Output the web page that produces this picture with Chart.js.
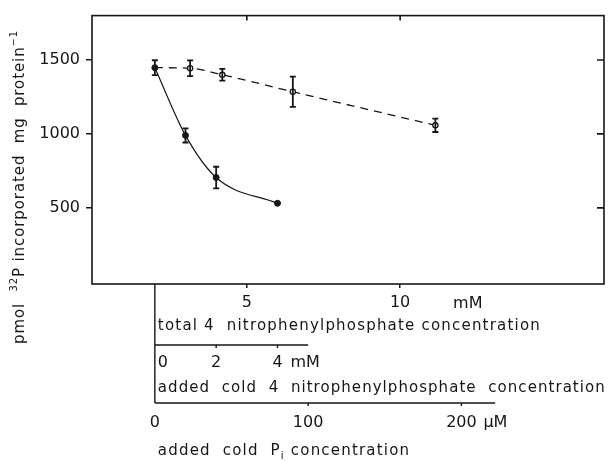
<!DOCTYPE html>
<html>
<head>
<meta charset="utf-8">
<script src="https://cdn.jsdelivr.net/npm/chart.js@4.4.1/dist/chart.umd.min.js"></script>
<style>
  html, body { margin: 0; padding: 0; background: #fff; }
</style>
</head>
<body>
<canvas id="chart" width="610" height="462"></canvas>
<script>
// axis ticks
const totalTicks = [5, 10];          // total 4-nitrophenylphosphate, mM
const addedTicks = [0, 2, 4];        // added cold 4-nitrophenylphosphate, mM
const piTicks = [0, 100, 200];       // added cold Pi, uM
const yTicks = [500, 1000, 1500];

const baseNpp = 2;      // mM labelled substrate present before any addition
const piPerMm = 20;     // uM Pi per mM on the nitrophenylphosphate axis
const addedAxisEnd = 5; // mM
const piAxisEnd = 222;  // uM

// filled circles, solid line: added cold Pi (uM)
const piConc = [0, 20, 40, 80];
const piIncorp = [1448, 990, 705, 531];
const piErr = [50, 48, 73, 0];

// open circles, dashed line: total 4-nitrophenylphosphate (mM)
const nppConc = [3.15, 4.2, 6.5, 11.15];
const nppIncorp = [1444, 1400, 1285, 1058];
const nppErr = [53, 40, 102, 45];

const ink = '#161616';
const face = '"DejaVu Sans"';
const xMin = -0.05, xMax = 16.65;

const errors = [piErr, [0].concat(nppErr)];

function drawParts(ctx, parts, x, y, spacing) {
    let cx = x;
    parts.forEach(p => {
        const small = p.sub || p.sup;
        ctx.font = (small ? 10 : 15) + 'px ' + face;
        ctx.letterSpacing = spacing + 'px';
        const dy = p.sub ? 4 : (p.sup ? -7 : 0);
        ctx.fillText(p.t, cx, y + dy);
        cx += ctx.measureText(p.t).width;
    });
    ctx.letterSpacing = '0px';
}

const figurePlugin = {
    id: 'figure',
    afterDatasetsDraw(chart) {
        const ctx = chart.ctx;
        const ys = chart.scales.y;
        ctx.save();
        ctx.strokeStyle = ink;
        ctx.lineWidth = 1.8;
        chart.data.datasets.forEach((ds, di) => {
            const meta = chart.getDatasetMeta(di);
            meta.data.forEach((pt, i) => {
                const e = errors[di][i];
                if (!e) return;
                const v = ds.data[i].y;
                const top = ys.getPixelForValue(v + e);
                const bot = ys.getPixelForValue(v - e);
                ctx.beginPath();
                ctx.moveTo(pt.x, top); ctx.lineTo(pt.x, bot);
                ctx.moveTo(pt.x - 3, top); ctx.lineTo(pt.x + 3, top);
                ctx.moveTo(pt.x - 3, bot); ctx.lineTo(pt.x + 3, bot);
                ctx.stroke();
            });
        });
        ctx.restore();
    },
    afterDraw(chart) {
        const ctx = chart.ctx;
        const a = chart.chartArea;
        const xs = chart.scales.x, xa = chart.scales.xAdd, xp = chart.scales.xPi, ys = chart.scales.y;
        ctx.save();
        ctx.strokeStyle = ink;
        ctx.fillStyle = ink;
        ctx.lineWidth = 1.6;
        ctx.strokeRect(a.left, a.top, a.right - a.left, a.bottom - a.top);

        ctx.beginPath();
        yTicks.forEach(v => {
            const y = ys.getPixelForValue(v);
            ctx.moveTo(a.right - 7, y); ctx.lineTo(a.right, y);
        });
        totalTicks.forEach(v => {
            const x = xs.getPixelForValue(v);
            ctx.moveTo(x, a.top); ctx.lineTo(x, a.top + 5);
        });
        ctx.stroke();

        // lower axes
        const x0 = xp.getPixelForValue(0);
        const addY = 345, piY = 403;
        ctx.lineWidth = 1.4;
        ctx.beginPath();
        ctx.moveTo(x0, a.bottom); ctx.lineTo(x0, piY);
        ctx.moveTo(x0, addY); ctx.lineTo(xa.getPixelForValue(addedAxisEnd), addY);
        addedTicks.slice(1).forEach(v => {
            const x = xa.getPixelForValue(v);
            ctx.moveTo(x, addY); ctx.lineTo(x, addY + 3);
        });
        ctx.moveTo(x0, piY); ctx.lineTo(xp.getPixelForValue(piAxisEnd), piY);
        piTicks.slice(1).forEach(v => {
            const x = xp.getPixelForValue(v);
            ctx.moveTo(x, piY); ctx.lineTo(x, piY + 3);
        });
        ctx.stroke();

        ctx.textBaseline = 'alphabetic';
        ctx.font = '16px ' + face;
        ctx.textAlign = 'left';
        ctx.fillText('mM', xs.getPixelForValue(totalTicks[totalTicks.length - 1]) + 53, 308);
        drawParts(ctx, [{t: 'total 4  nitrophenylphosphate concentration'}], x0 + 3, 330, 1.2);

        ctx.font = '16px ' + face;
        addedTicks.forEach((v, i) => {
            ctx.textAlign = i === 0 ? 'left' : 'center';
            ctx.fillText(String(v), i === 0 ? x0 + 3 : xa.getPixelForValue(v), 367);
        });
        ctx.textAlign = 'left';
        ctx.fillText('mM', xa.getPixelForValue(addedTicks[addedTicks.length - 1]) + 13, 367);
        drawParts(ctx, [{t: 'added  cold  4  nitrophenylphosphate  concentration'}], x0 + 3, 392, 1.05);

        ctx.font = '16px ' + face;
        ctx.textAlign = 'center';
        piTicks.forEach(v => ctx.fillText(String(v), xp.getPixelForValue(v), 427));
        ctx.textAlign = 'left';
        ctx.fillText('\u00b5M', xp.getPixelForValue(piTicks[piTicks.length - 1]) + 22, 427);
        drawParts(ctx, [{t: 'added  cold  P'}, {t: 'i', sub: true}, {t: ' concentration'}], x0 + 3, 455, 1.2);

        // y title
        ctx.translate(24, 344);
        ctx.rotate(-Math.PI / 2);
        drawParts(ctx, [{t: 'pmol  '}, {t: '32', sup: true}, {t: 'P incorporated  mg  protein'}, {t: '\u22121', sup: true}], 0, 0, 0.9);
        ctx.restore();
    }
};

const ctx = document.getElementById('chart').getContext('2d');
new Chart(ctx, {
    type: 'line',
    data: {
        datasets: [{
            xAxisID: 'xPi',
            data: piConc.map((x, i) => ({x: x, y: piIncorp[i]})),
            borderColor: ink,
            borderWidth: 1.2,
            pointRadius: 3,
            pointBackgroundColor: ink,
            pointBorderColor: ink,
            pointBorderWidth: 1,
            cubicInterpolationMode: 'monotone',
            fill: false
        }, {
            xAxisID: 'x',
            data: [{x: baseNpp, y: piIncorp[0]}].concat(nppConc.map((x, i) => ({x: x, y: nppIncorp[i]}))),
            borderColor: ink,
            borderWidth: 1.3,
            borderDash: [8, 6],
            pointRadius: [0, 2.6, 2.6, 2.6, 2.6],
            pointBackgroundColor: '#fff',
            pointBorderColor: ink,
            pointBorderWidth: 1.3,
            cubicInterpolationMode: 'monotone',
            fill: false
        }]
    },
    options: {
        responsive: false,
        animation: false,
        events: [],
        layout: { padding: { top: 6, right: 6, left: 0, bottom: 0 } },
        plugins: { legend: { display: false }, tooltip: { enabled: false } },
        scales: {
            x: {
                type: 'linear', position: 'bottom', min: xMin, max: xMax,
                afterFit: s => { s.height = 178; },
                afterBuildTicks: s => { s.ticks = totalTicks.map(v => ({value: v})); },
                grid: { drawOnChartArea: false, tickLength: 4, color: ink, lineWidth: 1.5 },
                border: { display: false },
                ticks: { color: ink, font: { family: 'DejaVu Sans', size: 16 }, padding: 5, maxRotation: 0, callback: v => String(v) }
            },
            xAdd: { axis: 'x', type: 'linear', display: false, min: xMin - baseNpp, max: xMax - baseNpp },
            xPi: { axis: 'x', type: 'linear', display: false, min: (xMin - baseNpp) * piPerMm, max: (xMax - baseNpp) * piPerMm },
            y: {
                min: -15, max: 1800,
                afterFit: s => { s.width = 92; },
                afterBuildTicks: s => { s.ticks = yTicks.map(v => ({value: v})); },
                grid: { drawOnChartArea: false, tickLength: 6, color: ink, lineWidth: 1.5 },
                border: { display: false },
                ticks: { color: ink, font: { family: 'DejaVu Sans', size: 16 }, padding: 6, callback: v => String(v) }
            }
        }
    },
    plugins: [figurePlugin]
});
</script>
</body>
</html>
